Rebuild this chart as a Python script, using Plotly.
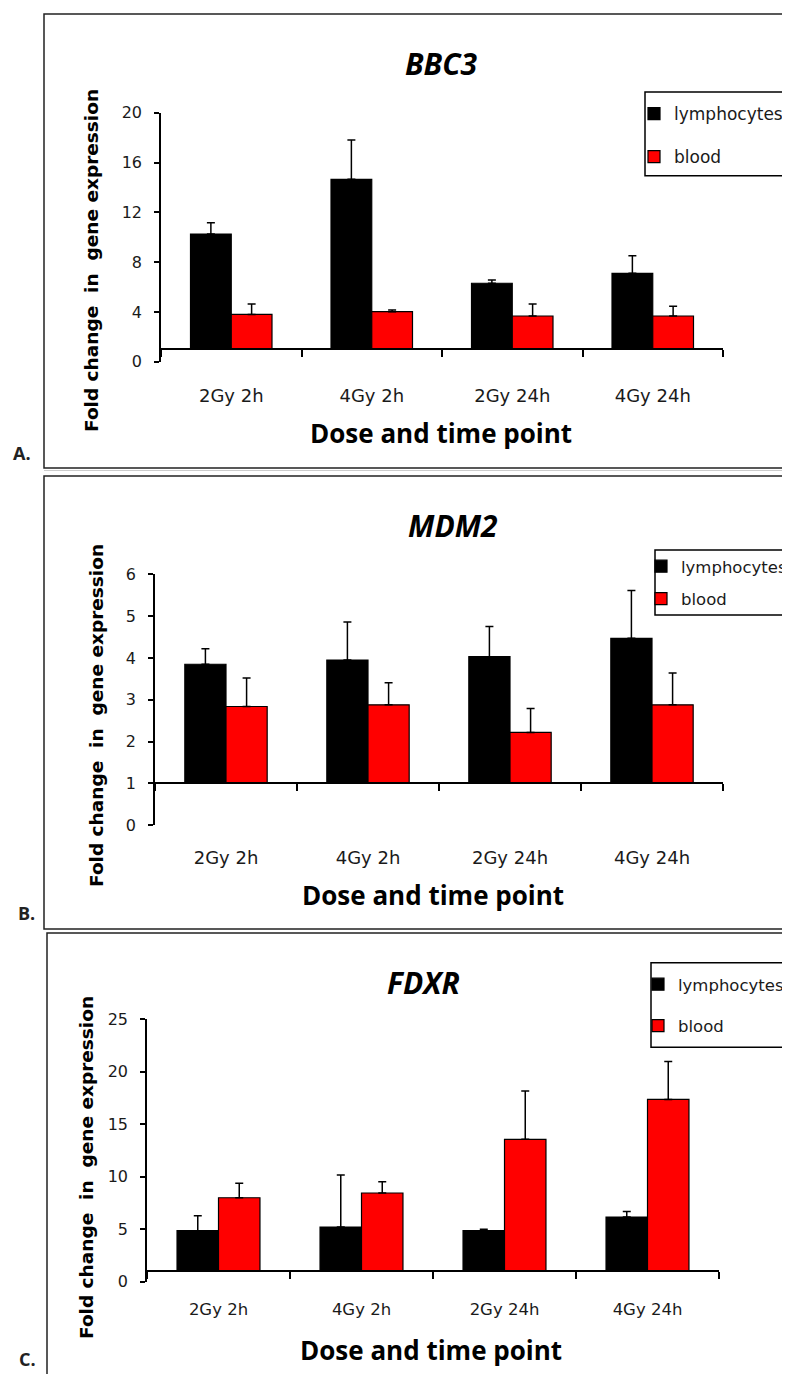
import plotly.graph_objects as go

# page body has an 8px default margin; figure is sized to fit the window
OFF = 8
FW, FH = 782, 1366

categories = ["2Gy 2h", "4Gy 2h", "2Gy 24h", "4Gy 24h"]
series_names = ["lymphocytes", "blood"]
baseline = 1  # axis crossing value (fold change = 1)

bbc3_lymph = [10.25, 14.65, 6.3, 7.1]
bbc3_lymph_err = [0.92, 3.15, 0.26, 1.4]
bbc3_blood = [3.8, 4.02, 3.67, 3.67]
bbc3_blood_err = [0.83, 0.13, 0.96, 0.78]

mdm2_lymph = [3.85, 3.95, 4.03, 4.47]
mdm2_lymph_err = [0.37, 0.91, 0.72, 1.14]
mdm2_blood = [2.84, 2.88, 2.22, 2.88]
mdm2_blood_err = [0.68, 0.53, 0.57, 0.76]

fdxr_lymph = [4.86, 5.21, 4.86, 6.16]
fdxr_lymph_err = [1.43, 4.95, 0.13, 0.54]
fdxr_blood = [8.0, 8.45, 13.56, 17.37]
fdxr_blood_err = [1.37, 1.07, 4.6, 3.62]

genes = ["BBC3", "MDM2", "FDXR"]
panel_letters = ["A.", "B.", "C."]

TICKF = "DejaVu Sans, Verdana, sans-serif"
TITLEF = "Open Sans, Lato, sans-serif"
YTF = "DejaVu Sans, Verdana, sans-serif"


def px(x):
    return (x - OFF) / FW


def py(y):
    return 1 - (y - OFF) / FH


def open_box(x0, y0, x1, y1):
    """Box path open on the right side (continues past the page edge)."""
    X0, X1, Y0, Y1 = px(x0), px(x1), py(y0), py(y1)
    return f"M{X1},{Y0} L{X0},{Y0} L{X0},{Y1} L{X1},{Y1}"


# layout geometry (reference pixels)
panels = [
    dict(lymph=bbc3_lymph, lerr=bbc3_lymph_err, blood=bbc3_blood, berr=bbc3_blood_err,
         xd=(161, 723), yd=(361.7, 112.7), yr=(0, 20), dtick=4,
         title_xy=(441, 63), xt_xy=(441, 433), yt_xy=(91, 261),
         letter_xy=(22, 453), frame=(44, 14, 830, 468),
         leg_box=(645, 92, 830, 175.7), leg_xy=(634, 96), leg_gap=18, legfs=17,
         xtickfs=18, ytickfs=16, xstand=30),
    dict(lymph=mdm2_lymph, lerr=mdm2_lymph_err, blood=mdm2_blood, berr=mdm2_blood_err,
         xd=(155, 723), yd=(825.3, 574.3), yr=(0, 6), dtick=1,
         title_xy=(453, 525), xt_xy=(433, 895), yt_xy=(96, 716),
         letter_xy=(26, 913), frame=(44, 476, 830, 929),
         leg_box=(655, 550, 830, 615), leg_xy=(641, 549), leg_gap=8, legfs=16.5,
         xtickfs=18, ytickfs=16, xstand=58),
    dict(lymph=fdxr_lymph, lerr=fdxr_lymph_err, blood=fdxr_blood, berr=fdxr_blood_err,
         xd=(147, 719), yd=(1281.7, 1019.3), yr=(0, 25), dtick=5,
         title_xy=(423, 982), xt_xy=(431, 1350), yt_xy=(86, 1168),
         letter_xy=(27, 1359), frame=(47, 933, 830, 1420),
         leg_box=(651, 962.7, 830, 1047.3), leg_xy=(638, 967), leg_gap=17, legfs=16.5,
         xtickfs=16.5, ytickfs=16, xstand=23),
]

fig = go.Figure()
shapes = []
annotations = []
layout = dict(
    width=FW, height=FH,
    margin=dict(l=0, r=0, t=0, b=0, pad=0, autoexpand=False),
    paper_bgcolor="white", plot_bgcolor="white",
    barmode="group", bargap=0.42, bargroupgap=0,
    showlegend=True,
)

for i, p in enumerate(panels):
    sfx = "" if i == 0 else str(i + 1)
    xa, ya = "x" + sfx, "y" + sfx
    legname = "legend" + sfx
    colors = ["#000000", "#FF0000"]
    vals = [p["lymph"], p["blood"]]
    errs = [p["lerr"], p["berr"]]
    for k in range(2):
        fig.add_trace(go.Bar(
            x=categories,
            y=[v - baseline for v in vals[k]],
            base=baseline,
            name=series_names[k],
            marker=dict(color=colors[k], line=dict(color="#000000", width=1.2)),
            error_y=dict(type="data", symmetric=False, array=errs[k],
                         arrayminus=[0] * len(errs[k]),
                         color="#000000", thickness=1.5, width=4),
            xaxis=xa, yaxis=ya, legend=legname, legendgroup=f"{i}-{k}",
        ))
    ydom = [py(p["yd"][0]), py(p["yd"][1])]
    y_at_base = ydom[0] + (ydom[1] - ydom[0]) * (baseline - p["yr"][0]) / (p["yr"][1] - p["yr"][0])
    layout["xaxis" + sfx] = dict(
        domain=[px(p["xd"][0]), px(p["xd"][1])],
        anchor="free", position=y_at_base,
        type="category", categoryorder="array", categoryarray=categories,
        range=[-0.5, 3.5],
        showline=True, linecolor="#000000", linewidth=1.5,
        ticks="outside", tickson="boundaries", ticklen=7, tickwidth=1.5, tickcolor="#000000",
        ticklabelstandoff=p["xstand"],
        tickfont=dict(family=TICKF, size=p["xtickfs"], color="#1a1a1a"),
        showgrid=False, zeroline=False, fixedrange=True,
    )
    layout["yaxis" + sfx] = dict(
        domain=ydom, anchor=xa, range=list(p["yr"]), dtick=p["dtick"], tick0=0,
        showline=True, linecolor="#000000", linewidth=1.5,
        ticks="outside", ticklen=5, tickwidth=1.5, tickcolor="#000000",
        ticklabelstandoff=9,
        tickfont=dict(family=TICKF, size=p["ytickfs"], color="#1a1a1a"),
        showgrid=False, zeroline=False, fixedrange=True,
    )
    layout[legname] = dict(
        x=px(p["leg_xy"][0]), y=py(p["leg_xy"][1]), xanchor="left", yanchor="top",
        bgcolor="rgba(0,0,0,0)", borderwidth=0,
        font=dict(family=TICKF, size=p["legfs"], color="#1a1a1a"),
        traceorder="grouped", tracegroupgap=p["leg_gap"],
    )
    shapes.append(dict(type="path", xref="paper", yref="paper",
                       path=open_box(*p["frame"]),
                       line=dict(color="#222222", width=1.5), layer="below"))
    lx0, ly0, lx1, ly1 = p["leg_box"]
    shapes.append(dict(type="rect", xref="paper", yref="paper",
                       x0=px(lx0), x1=px(lx1), y0=py(ly1), y1=py(ly0),
                       line=dict(width=0), fillcolor="white", layer="below"))
    shapes.append(dict(type="path", xref="paper", yref="paper",
                       path=open_box(*p["leg_box"]),
                       line=dict(color="#000000", width=1.5), layer="below"))
    annotations.append(dict(text=f"<b><i>{genes[i]}</i></b>", xref="paper", yref="paper",
                            x=px(p["title_xy"][0]), y=py(p["title_xy"][1]),
                            xanchor="center", yanchor="middle", showarrow=False,
                            font=dict(family=TITLEF, size=30, color="#000000")))
    annotations.append(dict(text="<b>Dose and time point</b>", xref="paper", yref="paper",
                            x=px(p["xt_xy"][0]), y=py(p["xt_xy"][1]),
                            xanchor="center", yanchor="middle", showarrow=False,
                            font=dict(family=TITLEF, size=26, color="#000000")))
    annotations.append(dict(text="<b>Fold change  in  gene expression</b>", xref="paper", yref="paper",
                            x=px(p["yt_xy"][0]), y=py(p["yt_xy"][1]), textangle=-90,
                            xanchor="center", yanchor="middle", showarrow=False,
                            font=dict(family=YTF, size=18.5, color="#000000")))
    annotations.append(dict(text=f"<b>{panel_letters[i]}</b>", xref="paper", yref="paper",
                            x=px(p["letter_xy"][0]), y=py(p["letter_xy"][1]),
                            xanchor="center", yanchor="middle", showarrow=False,
                            font=dict(family=TITLEF, size=18, color="#222222")))

shapes.append(dict(type="line", xref="paper", yref="paper",
                   x0=px(44), x1=1.05, y0=py(470.5), y1=py(470.5),
                   line=dict(color="#cccccc", width=1)))

layout["shapes"] = shapes
layout["annotations"] = annotations
fig.update_layout(**layout)
fig.write_html("out.html")
